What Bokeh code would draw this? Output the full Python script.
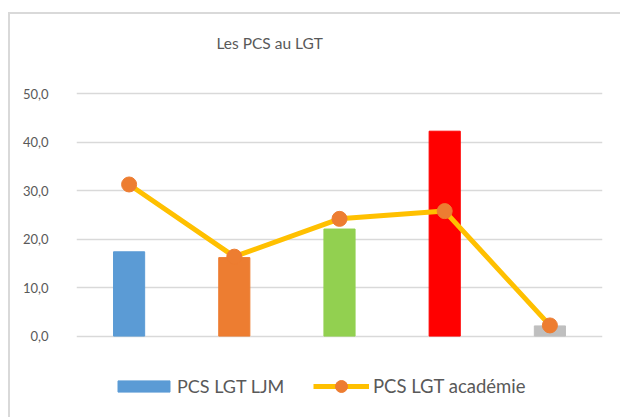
from bokeh.plotting import figure
from bokeh.models import (ColumnDataSource, FactorRange, Range1d, FixedTicker,
                          CustomJSTickFormatter, Legend, LegendItem, Label)
from bokeh.embed import file_html
from bokeh.resources import INLINE

categories = ["Très favorisée", "Favorisée", "Moyenne", "Défavorisée", "Non renseignée"]
ljm_values = [17.4, 16.2, 22.1, 42.3, 2.1]
academie_values = [31.3, 16.4, 24.2, 25.8, 2.2]
bar_colors = ["#5B9BD5", "#ED7D31", "#92D050", "#FF0000", "#BFBFBF"]
y_ticks = [0, 10, 20, 30, 40, 50]

src = ColumnDataSource(dict(cat=categories, ljm=ljm_values, aca=academie_values, color=bar_colors))

# the frame covers the whole height so the title and legend (drawn inside the frame) fit
p = figure(x_range=FactorRange(*categories, range_padding=0), y_range=Range1d(-17.22, 66.39),
           width=612, height=405, output_backend="svg", toolbar_location=None,
           min_border_left=66, min_border_right=20, min_border_top=0, min_border_bottom=0,
           styles={"border-left": "2px solid #d9d9d9", "border-top": "2px solid #d9d9d9",
                   "margin-left": "8px", "margin-top": "12px"})
p.outline_line_color = None

bars = p.vbar(x="cat", top="ljm", width=0.296, color="color", source=src)
line = p.line(x="cat", y="aca", line_color="#FFC000", line_width=5, source=src)
pts = p.scatter(x="cat", y="aca", size=15, fill_color="#ED7D31", line_color="#ED7D31", source=src)

p.xaxis.visible = False
p.xgrid.grid_line_color = None
p.ygrid.grid_line_color = "#d9d9d9"
p.ygrid.grid_line_width = 1.3
p.yaxis.ticker = FixedTicker(ticks=y_ticks)
p.yaxis.formatter = CustomJSTickFormatter(code="return tick.toFixed(1).replace('.', ',');")
p.yaxis.axis_line_color = None
p.yaxis.major_tick_line_color = None
p.yaxis.minor_tick_line_color = None
p.yaxis.major_label_text_font = "Lato"
p.yaxis.major_label_text_font_size = "13px"
p.yaxis.major_label_text_color = "#595959"
p.yaxis.major_label_standoff = 22

title = Label(x=1.836, y=60.6, text="Les PCS au LGT", text_align="center",
              text_baseline="middle", text_font="Lato", text_font_size="15.5px",
              text_color="#595959")
p.add_layout(title)

leg1 = Legend(items=[LegendItem(label="PCS LGT LJM", renderers=[bars], index=0)],
              location=(35, 22), glyph_width=65, glyph_height=14, label_standoff=1,
              padding=0, margin=0, border_line_color=None, background_fill_alpha=0,
              label_text_font="Lato", label_text_font_size="18px", label_text_color="#595959")
leg2 = Legend(items=[LegendItem(label="PCS LGT académie", renderers=[line, pts], index=0)],
              location=(237, 18), glyph_width=56, glyph_height=30, label_standoff=4,
              padding=0, margin=0, border_line_color=None, background_fill_alpha=0,
              label_text_font="Lato", label_text_font_size="18.5px", label_text_color="#595959")
p.add_layout(leg1, "center")
p.add_layout(leg2, "center")

open("out.html", "w").write(file_html(p, INLINE))
